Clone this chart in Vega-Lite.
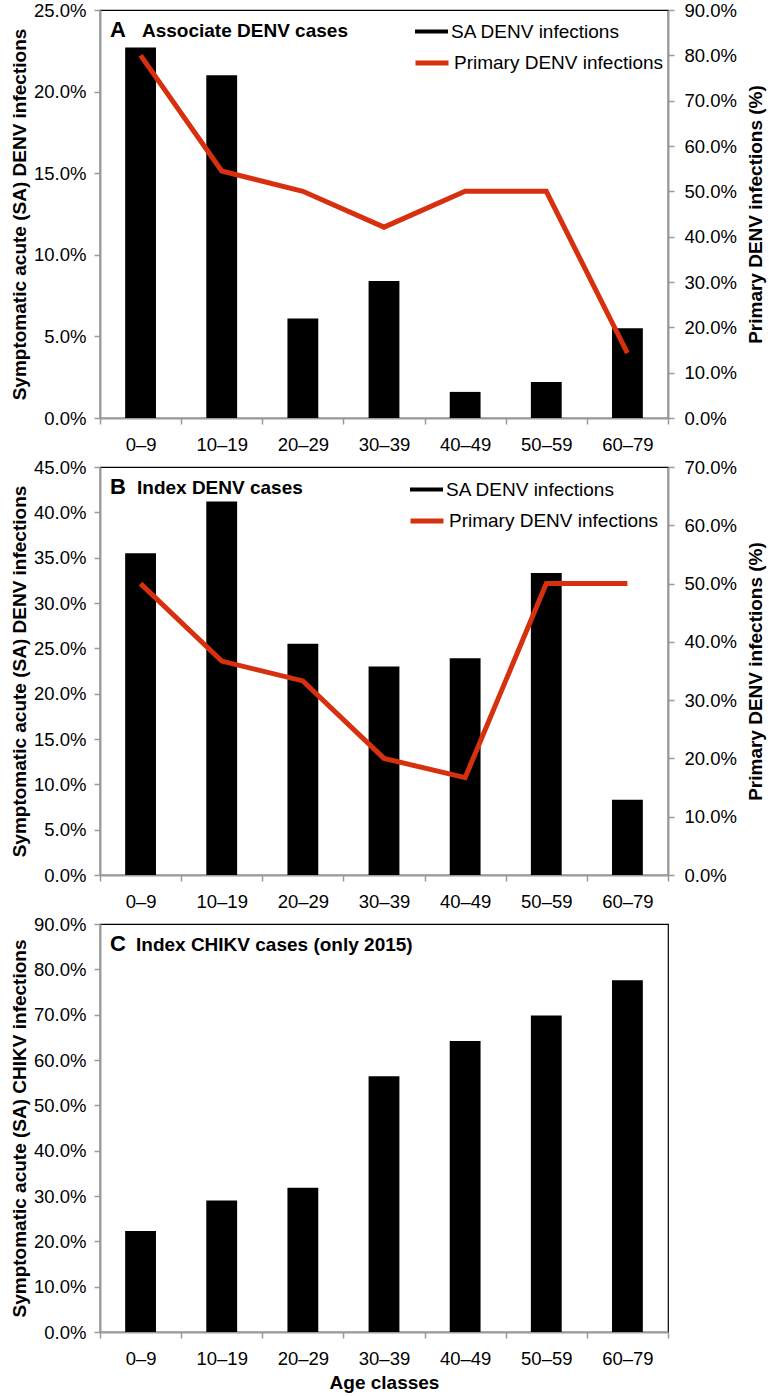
{
  "$schema": "https://vega.github.io/schema/vega-lite/v6.json",
  "background": "white",
  "padding": {"left": 9, "top": 0, "right": 0, "bottom": 0},
  "spacing": 2,
  "config": {
    "font": "Liberation Sans",
    "view": {"stroke": "black", "strokeWidth": 1.2},
    "axis": {
      "grid": false,
      "domainColor": "#9a9a9a",
      "domainWidth": 2,
      "tickColor": "#9a9a9a",
      "tickWidth": 1.5,
      "tickSize": 6,
      "labelFont": "Liberation Sans",
      "labelFontSize": 18.5,
      "labelColor": "black",
      "labelPadding": 8,
      "titleFont": "Liberation Sans",
      "titleFontSize": 19,
      "titleFontWeight": "bold",
      "titleColor": "black"
    },
    "axisX": {"labelPadding": 11},
    "legend": {
      "labelFont": "Liberation Sans",
      "labelFontSize": 19,
      "labelColor": "black",
      "labelLimit": 400,
      "padding": 0,
      "labelOffset": 3,
      "title": null
    },
    "text": {"font": "Liberation Sans", "fontWeight": "bold", "color": "black", "align": "left", "baseline": "alphabetic"}
  },
  "resolve": {
    "scale": {"x": "independent", "y": "independent", "fill": "independent", "stroke": "independent"},
    "legend": {"fill": "independent", "stroke": "independent"}
  },
  "vconcat": [
    {
      "width": 568,
      "height": 408,
      "data": {"values": [
        {"age": "0–9", "sa": 0.227, "primary": 0.80},
        {"age": "10–19", "sa": 0.210, "primary": 0.545},
        {"age": "20–29", "sa": 0.061, "primary": 0.50},
        {"age": "30–39", "sa": 0.084, "primary": 0.421},
        {"age": "40–49", "sa": 0.016, "primary": 0.50},
        {"age": "50–59", "sa": 0.022, "primary": 0.50},
        {"age": "60–79", "sa": 0.055, "primary": 0.143}
      ]},
      "encoding": {
        "x": {"field": "age", "type": "nominal", "sort": null, "scale": {"paddingInner": 0, "paddingOuter": 0},
          "axis": {"title": null, "labelAngle": 0, "tickBand": "extent"}}
      },
      "layer": [
        {
          "mark": {"type": "bar", "width": {"band": 0.38}},
          "encoding": {
            "y": {"field": "sa", "type": "quantitative", "scale": {"domain": [0, 0.25], "nice": false},
              "axis": {"title": "Symptomatic acute (SA) DENV infections", "format": ".1%", "values": [0, 0.05, 0.1, 0.15, 0.2, 0.25], "titlePadding": 4}},
            "fill": {"datum": "SA DENV infections", "type": "nominal", "scale": {"range": ["black"]},
              "legend": {"orient": "none", "legendX": 315, "legendY": 5, "symbolType": "M-1,-0.12H1V0.12H-1Z", "symbolSize": 1089, "symbolStrokeWidth": 0}}
          }
        },
        {
          "mark": {"type": "line", "strokeWidth": 5, "strokeJoin": "miter"},
          "encoding": {
            "y": {"field": "primary", "type": "quantitative", "scale": {"domain": [0, 0.9], "nice": false},
              "axis": {"orient": "right", "title": "Primary DENV infections (%)", "titleAngle": -90, "titleBaseline": "top", "format": ".1%", "values": [0, 0.1, 0.2, 0.3, 0.4, 0.5, 0.6, 0.7, 0.8, 0.9], "labelPadding": 10, "titlePadding": 10}},
            "stroke": {"datum": "Primary DENV infections", "type": "nominal", "scale": {"range": ["#d7300f"]},
              "legend": {"orient": "none", "legendX": 313, "legendY": 34, "symbolType": "stroke", "symbolSize": 1089, "symbolStrokeWidth": 5}}
          }
        },
        {
          "data": {"values": [{"letter": "A", "title": "Associate DENV cases"}]},
          "mark": {"type": "text", "fontSize": 22, "dx": 10, "dy": 27},
          "encoding": {
            "text": {"field": "letter"},
            "x": {"datum": "0–9", "bandPosition": 0},
            "y": {"datum": 1, "type": "quantitative", "scale": {"domain": [0, 1]}, "axis": null}
          }
        },
        {
          "data": {"values": [{"letter": "A", "title": "Associate DENV cases"}]},
          "mark": {"type": "text", "fontSize": 19, "dx": 42, "dy": 27},
          "encoding": {
            "text": {"field": "title"},
            "x": {"datum": "0–9", "bandPosition": 0},
            "y": {"datum": 1, "type": "quantitative", "scale": {"domain": [0, 1]}, "axis": null}
          }
        }
      ],
      "resolve": {"scale": {"y": "independent"}}
    },
    {
      "width": 568,
      "height": 408,
      "data": {"values": [
        {"age": "0–9", "sa": 0.355, "primary": 0.50},
        {"age": "10–19", "sa": 0.412, "primary": 0.367},
        {"age": "20–29", "sa": 0.255, "primary": 0.333},
        {"age": "30–39", "sa": 0.230, "primary": 0.20},
        {"age": "40–49", "sa": 0.239, "primary": 0.167},
        {"age": "50–59", "sa": 0.333, "primary": 0.50},
        {"age": "60–79", "sa": 0.083, "primary": 0.50}
      ]},
      "encoding": {
        "x": {"field": "age", "type": "nominal", "sort": null, "scale": {"paddingInner": 0, "paddingOuter": 0},
          "axis": {"title": null, "labelAngle": 0, "tickBand": "extent"}}
      },
      "layer": [
        {
          "mark": {"type": "bar", "width": {"band": 0.38}},
          "encoding": {
            "y": {"field": "sa", "type": "quantitative", "scale": {"domain": [0, 0.45], "nice": false},
              "axis": {"title": "Symptomatic acute (SA) DENV infections", "format": ".1%", "values": [0, 0.05, 0.1, 0.15, 0.2, 0.25, 0.3, 0.35, 0.4, 0.45], "titlePadding": 4}},
            "fill": {"datum": "SA DENV infections", "type": "nominal", "scale": {"range": ["black"]},
              "legend": {"orient": "none", "legendX": 310, "legendY": 6, "symbolType": "M-1,-0.12H1V0.12H-1Z", "symbolSize": 1089, "symbolStrokeWidth": 0}}
          }
        },
        {
          "mark": {"type": "line", "strokeWidth": 5, "strokeJoin": "miter"},
          "encoding": {
            "y": {"field": "primary", "type": "quantitative", "scale": {"domain": [0, 0.7], "nice": false},
              "axis": {"orient": "right", "title": "Primary DENV infections (%)", "titleAngle": -90, "titleBaseline": "top", "format": ".1%", "values": [0, 0.1, 0.2, 0.3, 0.4, 0.5, 0.6, 0.7], "labelPadding": 10, "titlePadding": 10}},
            "stroke": {"datum": "Primary DENV infections", "type": "nominal", "scale": {"range": ["#d7300f"]},
              "legend": {"orient": "none", "legendX": 308, "legendY": 35, "symbolType": "stroke", "symbolSize": 1089, "symbolStrokeWidth": 5}}
          }
        },
        {
          "data": {"values": [{"letter": "B", "title": "Index DENV cases"}]},
          "mark": {"type": "text", "fontSize": 22, "dx": 10, "dy": 27},
          "encoding": {
            "text": {"field": "letter"},
            "x": {"datum": "0–9", "bandPosition": 0},
            "y": {"datum": 1, "type": "quantitative", "scale": {"domain": [0, 1]}, "axis": null}
          }
        },
        {
          "data": {"values": [{"letter": "B", "title": "Index DENV cases"}]},
          "mark": {"type": "text", "fontSize": 19, "dx": 37, "dy": 27},
          "encoding": {
            "text": {"field": "title"},
            "x": {"datum": "0–9", "bandPosition": 0},
            "y": {"datum": 1, "type": "quantitative", "scale": {"domain": [0, 1]}, "axis": null}
          }
        }
      ],
      "resolve": {"scale": {"y": "independent"}}
    },
    {
      "width": 568,
      "height": 408,
      "data": {"values": [
        {"age": "0–9", "sa": 0.223},
        {"age": "10–19", "sa": 0.290},
        {"age": "20–29", "sa": 0.318},
        {"age": "30–39", "sa": 0.564},
        {"age": "40–49", "sa": 0.642},
        {"age": "50–59", "sa": 0.698},
        {"age": "60–79", "sa": 0.776}
      ]},
      "encoding": {
        "x": {"field": "age", "type": "nominal", "sort": null, "scale": {"paddingInner": 0, "paddingOuter": 0},
          "axis": {"title": "Age classes", "labelAngle": 0, "tickBand": "extent", "titlePadding": 6}}
      },
      "layer": [
        {
          "mark": {"type": "bar", "width": {"band": 0.38}, "color": "black"},
          "encoding": {
            "y": {"field": "sa", "type": "quantitative", "scale": {"domain": [0, 0.9], "nice": false},
              "axis": {"title": "Symptomatic acute (SA) CHIKV infections", "format": ".1%", "values": [0, 0.1, 0.2, 0.3, 0.4, 0.5, 0.6, 0.7, 0.8, 0.9], "titlePadding": 4}}
          }
        },
        {
          "data": {"values": [{"letter": "C", "title": "Index CHIKV cases (only 2015)"}]},
          "mark": {"type": "text", "fontSize": 22, "dx": 10, "dy": 27},
          "encoding": {
            "text": {"field": "letter"},
            "x": {"datum": "0–9", "bandPosition": 0},
            "y": {"datum": 1, "type": "quantitative", "scale": {"domain": [0, 1]}, "axis": null}
          }
        },
        {
          "data": {"values": [{"letter": "C", "title": "Index CHIKV cases (only 2015)"}]},
          "mark": {"type": "text", "fontSize": 19, "dx": 36, "dy": 27},
          "encoding": {
            "text": {"field": "title"},
            "x": {"datum": "0–9", "bandPosition": 0},
            "y": {"datum": 1, "type": "quantitative", "scale": {"domain": [0, 1]}, "axis": null}
          }
        }
      ],
      "resolve": {"scale": {"y": "independent"}}
    }
  ]
}
